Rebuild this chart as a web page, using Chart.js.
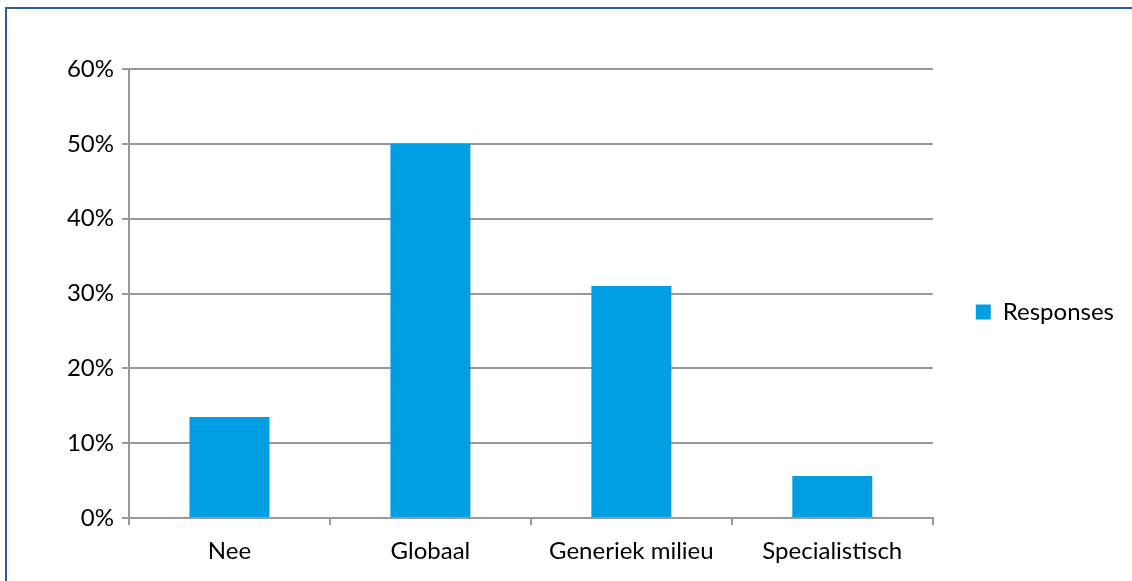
<!DOCTYPE html>
<html>
<head>
<meta charset="utf-8">
<script src="https://cdn.jsdelivr.net/npm/chart.js@4"></script>
<style>
  html, body { margin: 0; padding: 0; background: #fff; }
  #wrap { position: relative; width: 1132px; height: 581px; overflow: hidden; }
  #frame {
    position: absolute; left: 5px; top: 7px; right: -10px; bottom: -10px;
    border-left: 2px solid #2f5e96; border-top: 2px solid #2f5e96;
    pointer-events: none;
  }
</style>
</head>
<body>
<div id="wrap">
  <canvas id="chart" width="1132" height="581"></canvas>
  <div id="frame"></div>
</div>
<script>
// waarden (percentages)
const categories = ["Nee", "Globaal", "Generiek milieu", "Specialistisch"];
const responses = [13.5, 50, 31, 5.6];
const yTicks = [0, 10, 20, 30, 40, 50, 60];

const gridColor = "#999999";
const barColor = "#009fe3";
const font = { family: "Lato", size: 24 };

// x-as labels mogen onder de (kleine) as-box doorlopen
const unclipX = {
  id: "unclipX",
  afterLayout(chart) {
    chart.scales.x.bottom = chart.height;
  }
};

const ctx = document.getElementById("chart").getContext("2d");
new Chart(ctx, {
  type: "bar",
  data: {
    labels: categories,
    datasets: [{
      label: "Responses",
      data: responses,
      backgroundColor: barColor,
      borderWidth: 0,
      barPercentage: 0.398,
      categoryPercentage: 1
    }]
  },
  plugins: [unclipX],
  options: {
    responsive: false,
    animation: false,
    layout: { padding: { top: 69, left: 0, right: 8, bottom: 26 } },
    plugins: {
      tooltip: { enabled: false },
      legend: {
        position: "right",
        align: "center",
        labels: {
          font: font,
          color: "#000",
          boxWidth: 15,
          boxHeight: 15,
          padding: 43
        }
      }
    },
    scales: {
      x: {
        afterFit: s => { s.height = 37; },
        grid: {
          offset: true,
          drawOnChartArea: false,
          drawTicks: true,
          tickLength: 7,
          color: gridColor,
          lineWidth: 2
        },
        border: { color: gridColor, width: 2 },
        ticks: { font: font, color: "#000", padding: 12, maxRotation: 0 }
      },
      y: {
        min: yTicks[0],
        max: yTicks[yTicks.length - 1],
        afterFit: s => { s.width = 129; },
        afterBuildTicks: s => { s.ticks = yTicks.map(v => ({ value: v })); },
        grid: { color: gridColor, lineWidth: 2, tickLength: 7 },
        border: { color: gridColor, width: 2 },
        ticks: {
          font: font,
          color: "#000",
          padding: 8,
          callback: v => v + "%"
        }
      }
    }
  }
});
</script>
</body>
</html>
